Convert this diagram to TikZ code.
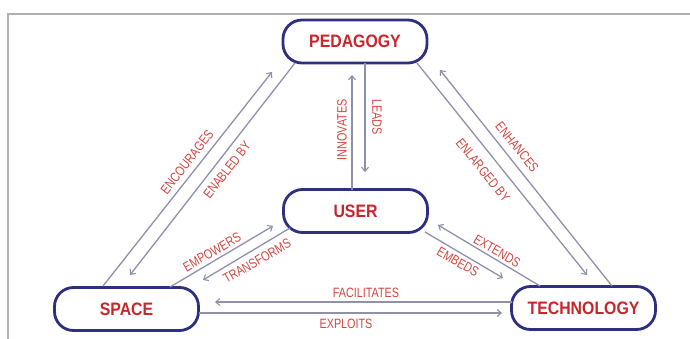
\documentclass[tikz,border=0pt]{standalone}
\usepackage{fontspec}
\usetikzlibrary{arrows.meta}
\newfontfamily\boxfont[FakeStretch=0.88]{Liberation Sans}
\newfontfamily\labfont[FakeStretch=0.80]{Liberation Sans}
\definecolor{navy}{HTML}{2E2F7E}
\definecolor{boxred}{HTML}{C8252C}
\definecolor{labred}{HTML}{D2463F}
\definecolor{wire}{HTML}{8E91A8}
\definecolor{framegray}{HTML}{B0B0B0}
\tikzset{
  concept/.style={draw=navy, line width=2.8pt, fill=white, rounded corners=19pt,
    minimum width=144pt, minimum height=43pt, inner sep=0pt,
    text=boxred, font=\boxfont\bfseries\fontsize{18}{18}\selectfont},
  relation/.style={text=labred, inner sep=0pt,
    font=\labfont\fontsize{13.5}{14}\selectfont},
  link/.style={draw=wire, line width=1.3pt,
    -{Straight Barb[length=4pt,width=7pt,line width=1.1pt]}},
}
\begin{document}
\begin{tikzpicture}[x=1pt, y=-1pt]
\useasboundingbox (0,0) rectangle (690,339);
% outer frame
\draw[framegray, line width=1.4pt] (8,339) -- (8,14) -- (690,14);

% concept boxes
\node[concept] (ped)  at (355,41.5) {PEDAGOGY};
\node[concept] (user) at (355.5,211) {USER};
\node[concept] (space) at (126.5,309) {SPACE};
\node[concept] (tech) at (583.5,308) {TECHNOLOGY};

% end points of the relation arrows
\coordinate (encS) at (103,286);  \coordinate (encE) at (272,72);
\coordinate (enbS) at (295,63);   \coordinate (enbE) at (130,275);
\coordinate (enlS) at (417,63);   \coordinate (enlE) at (587,275);
\coordinate (enhS) at (612,286);  \coordinate (enhE) at (440,70);
\coordinate (innS) at (352,190);  \coordinate (innE) at (352,75);
\coordinate (leaS) at (365,63);   \coordinate (leaE) at (365,172);
\coordinate (empS) at (170,287);  \coordinate (empE) at (273,226);
\coordinate (traS) at (290,228);  \coordinate (traE) at (203,280);
\coordinate (extS) at (540,286);  \coordinate (extE) at (438,225);
\coordinate (embS) at (425,232);  \coordinate (embE) at (503,278);
\coordinate (facS) at (512,302);  \coordinate (facE) at (215,302);
\coordinate (expS) at (199,313);  \coordinate (expE) at (502,313);

% relation arrows
\draw[link] (encS) -- (encE);
\draw[link] (enbS) -- (enbE);
\draw[link] (enlS) -- (enlE);
\draw[link] (enhS) -- (enhE);
\draw[link] (innS) -- (innE);
\draw[link] (leaS) -- (leaE);
\draw[link] (empS) -- (empE);
\draw[link] (traS) -- (traE);
\draw[link] (extS) -- (extE);
\draw[link] (embS) -- (embE);
\draw[link] (facS) -- (facE);
\draw[link] (expS) -- (expE);

% relation labels
\node[relation, rotate=52]  (lenc) at (187,162) {ENCOURAGES};
\node[relation, rotate=52]  (lenb) at (227,170) {ENABLED BY};
\node[relation, rotate=-51] (lenh) at (517,147) {ENHANCES};
\node[relation, rotate=-51] (lenl) at (483,170) {ENLARGED BY};
\node[relation, rotate=90]  (linn) at (342,130) {INNOVATES};
\node[relation, rotate=-90] (llea) at (377,117) {LEADS};
\node[relation, rotate=30]  (lemp) at (212,252) {EMPOWERS};
\node[relation, rotate=30]  (ltra) at (257,261) {TRANSFORMS};
\node[relation, rotate=-30] (lext) at (497,251) {EXTENDS};
\node[relation, rotate=-30] (lemb) at (458,262) {EMBEDS};
\node[relation] (lfac) at (366,293) {FACILITATES};
\node[relation] (lexp) at (346,324) {EXPLOITS};
\end{tikzpicture}
\end{document}
